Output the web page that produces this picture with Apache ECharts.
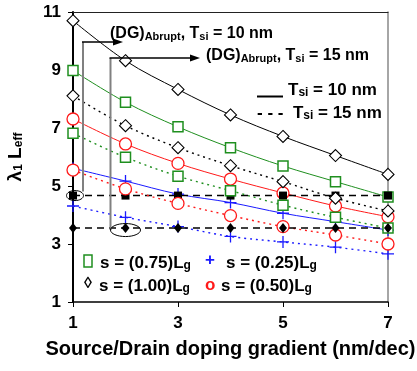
<!DOCTYPE html>
<html>
<head>
<meta charset="utf-8">
<script src="https://cdn.jsdelivr.net/npm/echarts@6/dist/echarts.min.js"></script>
<style>
  html, body { margin: 0; padding: 0; background: #fff; }
  #chart { width: 417px; height: 371px; }
</style>
</head>
<body>
<div id="chart"></div>
<script>
// Source/drain doping gradient (nm/dec)
const xs = [1, 2, 3, 4, 5, 6, 7];
const xTicks = [1, 3, 5, 7];
const yTicks = [1, 3, 5, 7, 9, 11];

// lambda_1 * L_eff, Tsi = 10 nm (solid curves)
const s100_t10 = [10.70, 9.32, 8.33, 7.45, 6.71, 6.05, 5.40];
const s075_t10 = [8.98, 7.89, 7.04, 6.32, 5.69, 5.15, 4.62];
const s050_t10 = [7.31, 6.45, 5.78, 5.24, 4.76, 4.31, 3.94];
const s025_t10 = [5.61, 5.17, 4.72, 4.43, 4.06, 3.77, 3.48];

// lambda_1 * L_eff, Tsi = 15 nm (dotted curves)
const s100_t15 = [8.11, 7.08, 6.32, 5.70, 5.15, 4.58, 4.14];
const s075_t15 = [6.82, 5.99, 5.34, 4.84, 4.34, 3.92, 3.55];
const s050_t15 = [5.55, 4.90, 4.40, 3.98, 3.60, 3.31, 3.00];
const s025_t15 = [4.31, 3.92, 3.60, 3.26, 3.07, 2.89, 2.66];

// Abrupt junction double-gate reference levels
const abrupt_t10 = [4.67, 4.67, 4.67, 4.67, 4.67, 4.67, 4.67];
const abrupt_t15 = [3.55, 3.55, 3.55, 3.55, 3.55, 3.55, 3.55];

const FONT = '"Liberation Sans", Arial, sans-serif';
const GREEN = '#1f8f1f', RED = '#ff1a1a', BLUE = '#1a1aff', BLACK = '#000';
const PLUS = 'path://M6,0L6,12M0,6L12,6';
const DOT = [2, 4];

function pts(vals) { return xs.map((x, i) => [x, vals[i]]); }

function curve(vals, color, symbol, size, dashed, bw) {
  return {
    type: 'line', data: pts(vals), smooth: 0.35,
    symbol: symbol, symbolSize: size, showSymbol: true,
    lineStyle: { color: color, width: dashed ? 1.4 : 1, type: dashed ? DOT : 'solid' },
    itemStyle: { color: '#fff', borderColor: color, borderWidth: bw },
    emphasis: { disabled: true }, animation: false
  };
}

function level(vals, symbol, size) {
  return {
    type: 'line', data: pts(vals), smooth: false,
    symbol: symbol, symbolSize: size, showSymbol: true,
    lineStyle: { color: BLACK, width: 1.5, type: [7, 5] },
    itemStyle: { color: BLACK, borderColor: BLACK, borderWidth: 0 },
    emphasis: { disabled: true }, animation: false
  };
}

function subRich(main, sub) {
  const L = main + 4;
  return {
    a: { fontFamily: FONT, fontWeight: 'bold', fontSize: main, lineHeight: L, verticalAlign: 'bottom' },
    b: { fontFamily: FONT, fontWeight: 'bold', fontSize: sub, lineHeight: L - 8, verticalAlign: 'bottom' }
  };
}

const chart = echarts.init(document.getElementById('chart'));

chart.setOption({
  backgroundColor: '#fff',
  animation: false,
  grid: { left: 73, right: 29, top: 12, bottom: 69, containLabel: false, outerBoundsMode: 'none' },
  xAxis: [{
    type: 'value', min: 1, max: 7,
    axisLine: { show: true, lineStyle: { color: BLACK, width: 1.5 } },
    axisTick: { show: true, customValues: xTicks, length: 5, lineStyle: { color: BLACK, width: 1 } },
    axisLabel: { customValues: xTicks, margin: 13, color: BLACK, fontFamily: FONT, fontWeight: 'bold', fontSize: 17 },
    splitLine: { show: false },
    name: 'Source/Drain doping gradient (nm/dec)',
    nameLocation: 'middle', nameGap: 37,
    nameTextStyle: { color: BLACK, fontFamily: FONT, fontWeight: 'bold', fontSize: 20 }
  }, {
    type: 'value', min: 1, max: 7, position: 'top',
    axisLine: { show: true, lineStyle: { color: '#222', width: 1 } },
    axisTick: { show: false }, axisLabel: { show: false }, splitLine: { show: false }
  }],
  yAxis: [{
    type: 'value', min: 1, max: 11,
    axisLine: { show: true, lineStyle: { color: BLACK, width: 2 } },
    axisTick: { show: true, customValues: yTicks, length: 5, lineStyle: { color: BLACK, width: 1 } },
    axisLabel: { customValues: yTicks, margin: 12, color: BLACK, fontFamily: FONT, fontWeight: 'bold', fontSize: 17 },
    splitLine: { show: false },
    name: '{a|λ}{b|1}{a| L}{b|eff}',
    nameLocation: 'middle', nameGap: 48,
    nameTextStyle: { color: BLACK, rich: subRich(19, 12) }
  }, {
    type: 'value', min: 1, max: 11, position: 'right',
    axisLine: { show: true, lineStyle: { color: '#888', width: 1.5 } },
    axisTick: { show: false }, axisLabel: { show: false }, splitLine: { show: false }
  }],
  series: [
    curve(s025_t10, BLUE, PLUS, 12, false, 1.3),
    curve(s050_t10, RED, 'circle', 12, false, 1.3),
    curve(s075_t10, GREEN, 'rect', 10, false, 1.5),
    curve(s100_t10, BLACK, 'diamond', [12, 12], false, 1.1),
    level(abrupt_t10, 'rect', 8),
    curve(s025_t15, BLUE, PLUS, 12, true, 1.3),
    curve(s050_t15, RED, 'circle', 12, true, 1.3),
    curve(s075_t15, GREEN, 'rect', 10, true, 1.5),
    curve(s100_t15, BLACK, 'diamond', [12, 12], true, 1.1),
    level(abrupt_t15, 'diamond', [8, 10])
  ]
});

// Callouts and legends drawn on top of the plot
const pA = chart.convertToPixel({ seriesIndex: 4 }, [xs[0], abrupt_t10[0]]);
const pB = chart.convertToPixel({ seriesIndex: 9 }, [xs[1], abrupt_t15[1]]);

function txt(x, y, text, rich, extra) {
  return Object.assign({
    type: 'text', z: 100,
    style: { x: x, y: y, text: text, rich: rich, fill: BLACK, verticalAlign: 'middle', align: 'left',
             fontFamily: FONT, fontWeight: 'bold', fontSize: 17 }
  }, extra || {});
}

function arrow(x1, y, x2) {
  return [
    { type: 'line', z: 100, shape: { x1: x1, y1: y, x2: x2 - 8, y2: y }, style: { stroke: BLACK, lineWidth: 1.5 } },
    { type: 'polygon', z: 100, shape: { points: [[x2, y], [x2 - 10, y - 3.5], [x2 - 10, y + 3.5]] }, style: { fill: BLACK } }
  ];
}

const vx1 = pA[0] + 10, topA = 42;
const vx2 = pB[0] - 15, topB = 58;

const legendRich = {
  a: { fontFamily: FONT, fontWeight: 'bold', fontSize: 17, lineHeight: 21, verticalAlign: 'bottom', fill: BLACK },
  b: { fontFamily: FONT, fontWeight: 'bold', fontSize: 12, lineHeight: 13, verticalAlign: 'bottom', fill: BLACK }
};
const dgRich = {
  a: { fontFamily: FONT, fontWeight: 'bold', fontSize: 16, lineHeight: 20, verticalAlign: 'bottom', fill: BLACK },
  b: { fontFamily: FONT, fontWeight: 'bold', fontSize: 11, lineHeight: 12, verticalAlign: 'bottom', fill: BLACK }
};

const graphics = [
  { type: 'ellipse', z: 100, shape: { cx: pA[0] + 2, cy: pA[1], rx: 8.5, ry: 5 }, style: { fill: 'none', stroke: BLACK, lineWidth: 1 } },
  { type: 'ellipse', z: 100, shape: { cx: pB[0], cy: pB[1] + 2, rx: 15, ry: 6.5 }, style: { fill: 'none', stroke: BLACK, lineWidth: 1 } },
  { type: 'line', z: 99, shape: { x1: vx1, y1: pA[1] - 4, x2: vx1, y2: topA }, style: { stroke: '#808080', lineWidth: 2 } },
  { type: 'line', z: 99, shape: { x1: vx2, y1: pB[1] + 2, x2: vx2, y2: topB }, style: { stroke: '#808080', lineWidth: 2 } },
  ...arrow(vx1 - 1, topA, 123),
  ...arrow(vx2 - 1, topB, 200),
  txt(110, 32, '{a|(DG)}{b|Abrupt}{a|, T}{b|si}{a| = 10 nm}', dgRich),
  txt(206, 54, '{a|(DG)}{b|Abrupt}{a|, T}{b|si}{a| = 15 nm}', dgRich),
  // line-style key
  { type: 'line', z: 100, shape: { x1: 257, y1: 96.5, x2: 283, y2: 96.5 }, style: { stroke: BLACK, lineWidth: 2 } },
  txt(288, 88, '{a|T}{b|si}{a| = 10 nm}', legendRich),
  txt(257, 111, '{a|- - -  T}{b|si}{a| = 15 nm}', legendRich),
  // marker key
  { type: 'rect', z: 100, shape: { x: 84, y: 255, width: 8, height: 12 }, style: { fill: '#fff', stroke: GREEN, lineWidth: 1.5 } },
  txt(100, 261, '{a|s = (0.75)L}{b|g}', legendRich),
  txt(205, 261, '+', null, { style: { x: 205, y: 260, text: '+', fill: BLUE, verticalAlign: 'middle', align: 'left', fontFamily: FONT, fontWeight: 'bold', fontSize: 17 } }),
  txt(226, 261, '{a|s = (0.25)L}{b|g}', legendRich),
  txt(84, 284, '◊', null, { style: { x: 84, y: 284, text: '◊', fill: BLACK, verticalAlign: 'middle', align: 'left', fontFamily: FONT, fontWeight: 'bold', fontSize: 16 } }),
  txt(99, 284, '{a|s = (1.00)L}{b|g}', legendRich),
  txt(205, 285, 'o', null, { style: { x: 205, y: 285, text: 'o', fill: RED, verticalAlign: 'middle', align: 'left', fontFamily: FONT, fontWeight: 'bold', fontSize: 17 } }),
  txt(221, 284, '{a|s = (0.50)L}{b|g}', legendRich)
];

chart.setOption({ graphic: graphics });
</script>
</body>
</html>
